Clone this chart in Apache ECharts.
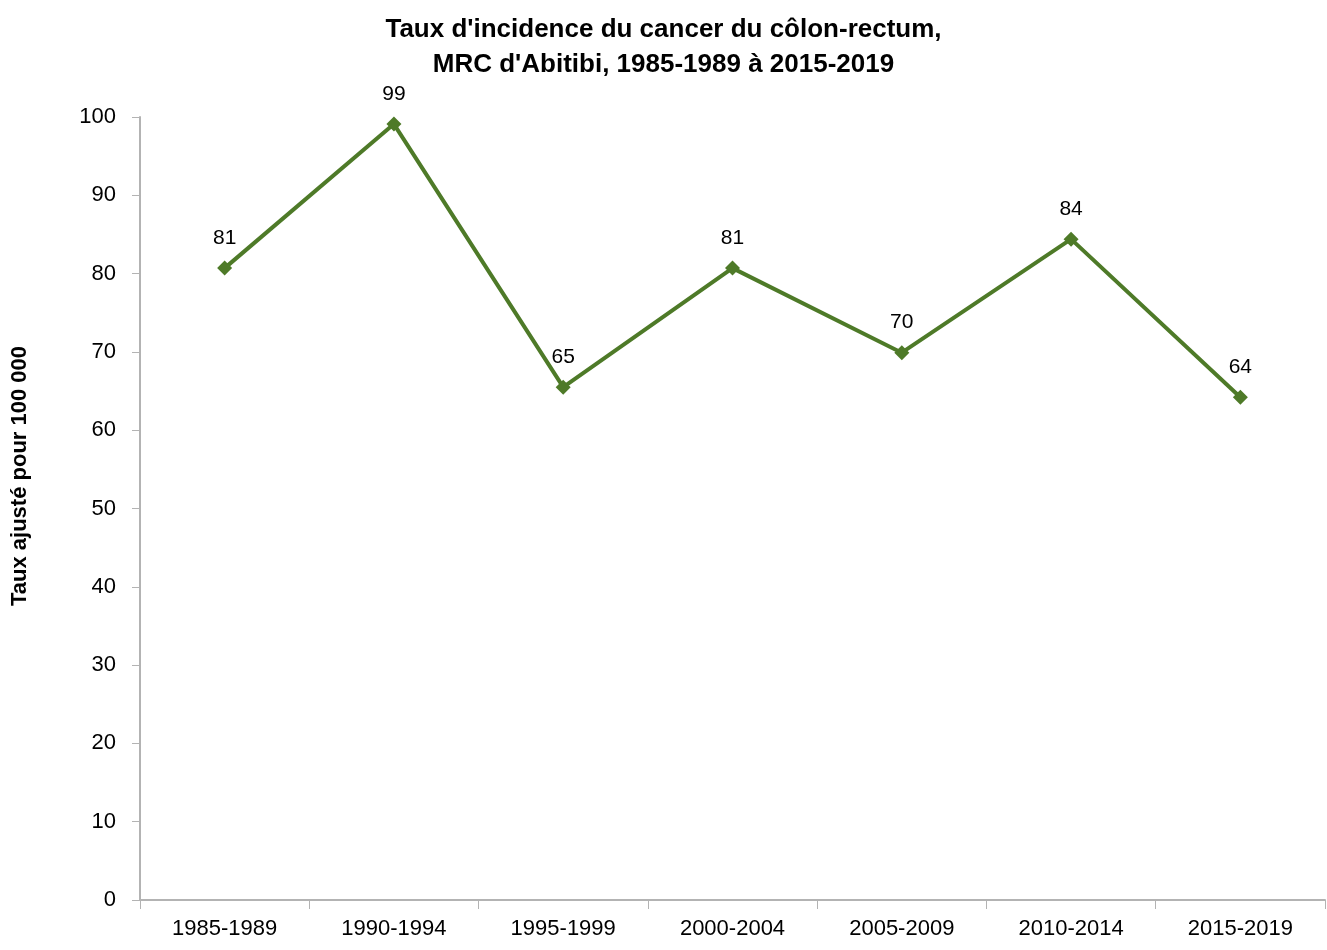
<!DOCTYPE html>
<html>
<head>
<meta charset="utf-8">
<script src="https://cdn.jsdelivr.net/npm/echarts@6/dist/echarts.min.js"></script>
<style>html,body{margin:0;padding:0;background:#fff;}#c{width:1327px;height:950px;}</style>
</head>
<body>
<div id="c"></div>
<script>
const categories = ['1985-1989','1990-1994','1995-1999','2000-2004','2005-2009','2010-2014','2015-2019'];
const values = [80.7, 99.1, 65.5, 80.7, 69.9, 84.4, 64.2];
const labels = ['81','99','65','81','70','84','64'];
const titleText = "Taux d'incidence du cancer du côlon-rectum,\nMRC d'Abitibi, 1985-1989 à 2015-2019";
const yAxisName = 'Taux ajusté pour 100 000';

const FONT = '"Liberation Sans Narrow", "Arial Narrow", "Liberation Sans", sans-serif';
const chart = echarts.init(document.getElementById('c'));
chart.setOption({
  backgroundColor: '#fff',
  animation: false,
  title: {
    text: titleText,
    left: 'center',
    top: 7,
    textStyle: { fontFamily: FONT, fontSize: 26, fontWeight: 'bold', color: '#000', lineHeight: 35 }
  },
  grid: { left: 140, right: 2, top: 117, bottom: 50, containLabel: false },
  graphic: [{
    type: 'text',
    x: 20, y: 476,
    rotation: Math.PI / 2,
    style: {
      text: yAxisName,
      fontFamily: FONT, fontSize: 22, fontWeight: 'bold', fill: '#000',
      textAlign: 'center', textVerticalAlign: 'middle'
    }
  }],
  xAxis: {
    type: 'category',
    data: categories,
    boundaryGap: true,
    axisLine: { lineStyle: { color: '#b3b3b3', width: 2 } },
    axisTick: { show: true, length: 9, lineStyle: { color: '#b3b3b3', width: 1 }, alignWithLabel: false },
    axisLabel: { fontFamily: FONT, fontSize: 22, color: '#000', margin: 18 }
  },
  yAxis: {
    type: 'value',
    min: 0, max: 100, interval: 10,
    axisLine: { show: true, lineStyle: { color: '#b3b3b3', width: 2 } },
    axisTick: { show: true, length: 8, lineStyle: { color: '#b3b3b3', width: 1 } },
    splitLine: { show: false },
    axisLabel: { fontFamily: FONT, fontSize: 22, color: '#000', margin: 24 }
  },
  series: [{
    type: 'line',
    data: values,
    symbol: 'diamond',
    symbolSize: 15,
    lineStyle: { color: '#4E7A28', width: 4 },
    itemStyle: { color: '#4E7A28' },
    label: {
      show: true,
      position: 'top',
      distance: 12,
      fontFamily: FONT,
      fontSize: 21,
      color: '#000',
      formatter: p => labels[p.dataIndex]
    }
  }]
});
</script>
</body>
</html>
